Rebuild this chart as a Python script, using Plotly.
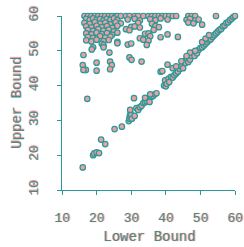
import plotly.graph_objects as go

# y = 60 row and upper cluster
top_x = [16.5, 17.5, 18.5, 19.5, 20.5, 21.5, 22.5, 23.5, 24.5, 25.5, 26, 27, 28.5, 29.5, 31, 32, 33.5, 35, 36, 37, 38, 39, 40, 41, 42, 43, 46.5, 47.5, 48.5, 54.5,
         17, 18, 19, 20, 21, 22, 23, 24, 25, 26, 29, 31, 32.5, 35.5, 37, 38.5, 40.5, 46, 47, 48.5, 49.5,
         16.5, 18, 19.5, 21, 22.5, 24, 25.5, 27, 32, 36, 46.5, 48, 50.5,
         17, 18.5, 20, 21.5, 23, 24.5, 26, 30, 31, 32.5, 37, 38,
         17.5, 19, 20.5, 22, 23.5, 25, 28.5, 29.5, 36.5,
         17, 18.5, 20, 21.5, 23, 24.5, 26, 34, 35, 40.5,
         17.5, 19, 21, 22.5, 24, 32.5, 35.5, 38.5, 43.5,
         17, 18.5, 20, 22, 23.5, 26, 33.5, 35,
         21.5, 22, 26, 29, 30, 34.5,
         19, 22, 18.6, 23.7, 16.2, 29.5, 30.1, 23.9, 33, 20, 16, 24.4, 16.9, 16.2, 20, 23.9, 17.3]
top_y = [60] * 30 + \
        [59.2, 58.8, 59.3, 58.9, 59.1, 58.7, 59.2, 58.9, 59.3, 58.8, 59, 59.2, 58.7, 59.1, 58.8, 59.3, 59, 58.9, 59.2, 58.7, 59] + \
        [58, 57.7, 58.2, 57.8, 58.1, 57.6, 58.2, 57.9, 58, 57.8, 58.1, 57.9, 57.5] + \
        [57, 56.7, 57.2, 56.8, 57.1, 56.6, 57.2, 56.9, 57, 56.7, 57.1, 56.8] + \
        [56, 55.7, 56.2, 55.8, 56.1, 55.6, 56.2, 55.9, 56] + \
        [55, 54.7, 55.2, 54.8, 55.1, 54.6, 55.2, 54.9, 55, 54.7] + \
        [54, 53.7, 54.2, 53.8, 54.1, 53.6, 54.2, 53.9, 54] + \
        [53, 52.7, 53.2, 52.8, 53.1, 52.6, 53.2, 52.9] + \
        [52, 51.6, 52.2, 51.8, 52.1, 51.7] + \
        [51, 51, 50.4, 49.5, 48.8, 48.1, 47.4, 46.9, 46.9, 46.6, 45.9, 45.9, 44.5, 44.5, 44.3, 44.7, 36.2]

diag_x = [16, 19, 19.3, 20, 20.7, 21.3, 22.5, 25.2, 27.3,
          29.3, 29.5, 29.6, 29.8, 29.7, 30, 30.2, 30.8, 31, 31.5, 32, 32.5, 33, 33.5, 34, 34.5, 35, 35.3, 35.8, 36.3, 36.8, 37.3,
          38.5, 39, 39.5, 39.8, 40, 40.3, 40.5, 40.8, 41, 41.5, 42, 42.5, 43, 43.5, 44, 44.5, 45, 45.3, 45.7, 46, 46.5, 47, 47.5,
          48, 48.3, 49, 49.5, 50, 50.5, 51, 51.5, 52, 52.5, 53, 53.5, 54, 54.5, 55, 55.5, 56, 56.5, 57, 57.5, 58, 58.5, 59, 59.5, 60,
          34, 35.5, 42, 44.5, 47, 48.5, 50.5, 51.5, 52.5, 46, 43]
diag_y = [16.5, 20, 20.5, 20.8, 20.6, 24.5, 23.2, 27.5, 28.2,
          29.8, 30.5, 31.2, 32, 33, 31.5, 30.5, 36.4, 31.3, 33.5, 33, 33.8, 34.2, 35, 35.2, 35.5, 36, 35.3, 36.8, 37, 37.5, 37.8,
          44, 44.2, 40, 41.5, 39.8, 40.5, 46, 42, 41, 42.5, 42.3, 43, 43.5, 44, 44.8, 45.5, 45, 47, 46.5, 47.8, 46.8, 47.5, 48.5,
          49.5, 48.5, 49.3, 50.3, 50.8, 51, 51.5, 52, 52.5, 53, 53.3, 54, 54.5, 55, 55.5, 56, 56.3, 57, 57.3, 58, 58.2, 58.8, 59.2, 59.7, 60,
          36.5, 37.5, 45, 47, 49.5, 50, 52.5, 53.5, 54.5, 48.5, 45.5]

lower_bound = top_x + diag_x
upper_bound = top_y + diag_y

x_ticks = [10, 20, 30, 40, 50, 60]
y_ticks = [10, 20, 30, 40, 50, 60]
x_title = "Lower Bound"
y_title = "Upper Bound"

teal = "#2a9898"
text_col = "#4a8a8a"
shadow = "1px 0px 1px #f08888"
font = dict(family="Liberation Mono, Courier New, monospace", color=text_col, size=13, shadow=shadow)
title_font = dict(font, size=14)

fig = go.Figure(go.Scatter(
    x=lower_bound, y=upper_bound, mode="markers",
    marker=dict(symbol="circle", size=5.5, color="#eda0a0", line=dict(color=teal, width=1.2)),
    cliponaxis=False, showlegend=False))

axis_common = dict(showgrid=False, zeroline=False, showline=True, linecolor=teal, linewidth=1,
                   ticks="outside", ticklen=4, tickcolor=teal, tickwidth=1,
                   tickfont=font, automargin=False, range=[10, 60], mirror=False,
                   ticklabeloverflow="allow")

fig.update_layout(
    width=244, height=247,
    margin=dict(l=62, r=9, t=16, b=57),
    paper_bgcolor="white", plot_bgcolor="white",
    xaxis=dict(**axis_common, tickvals=x_ticks, ticklabelstandoff=11),
    yaxis=dict(**axis_common, tickvals=y_ticks, tickangle=-90, ticklabelstandoff=14),
    annotations=[
        dict(text=x_title, xref="paper", yref="paper", x=0.5, y=-47 / 174, xanchor="center",
             yanchor="middle", showarrow=False, font=title_font),
        dict(text=y_title, xref="paper", yref="paper", x=-45 / 173, y=(190 - 103) / 174,
             xanchor="center", yanchor="middle", textangle=-90, showarrow=False, font=title_font),
    ],
)

fig.write_html("out.html", config={"displayModeBar": False},
               post_script="document.body.style.margin='0';document.body.style.padding='0';")
